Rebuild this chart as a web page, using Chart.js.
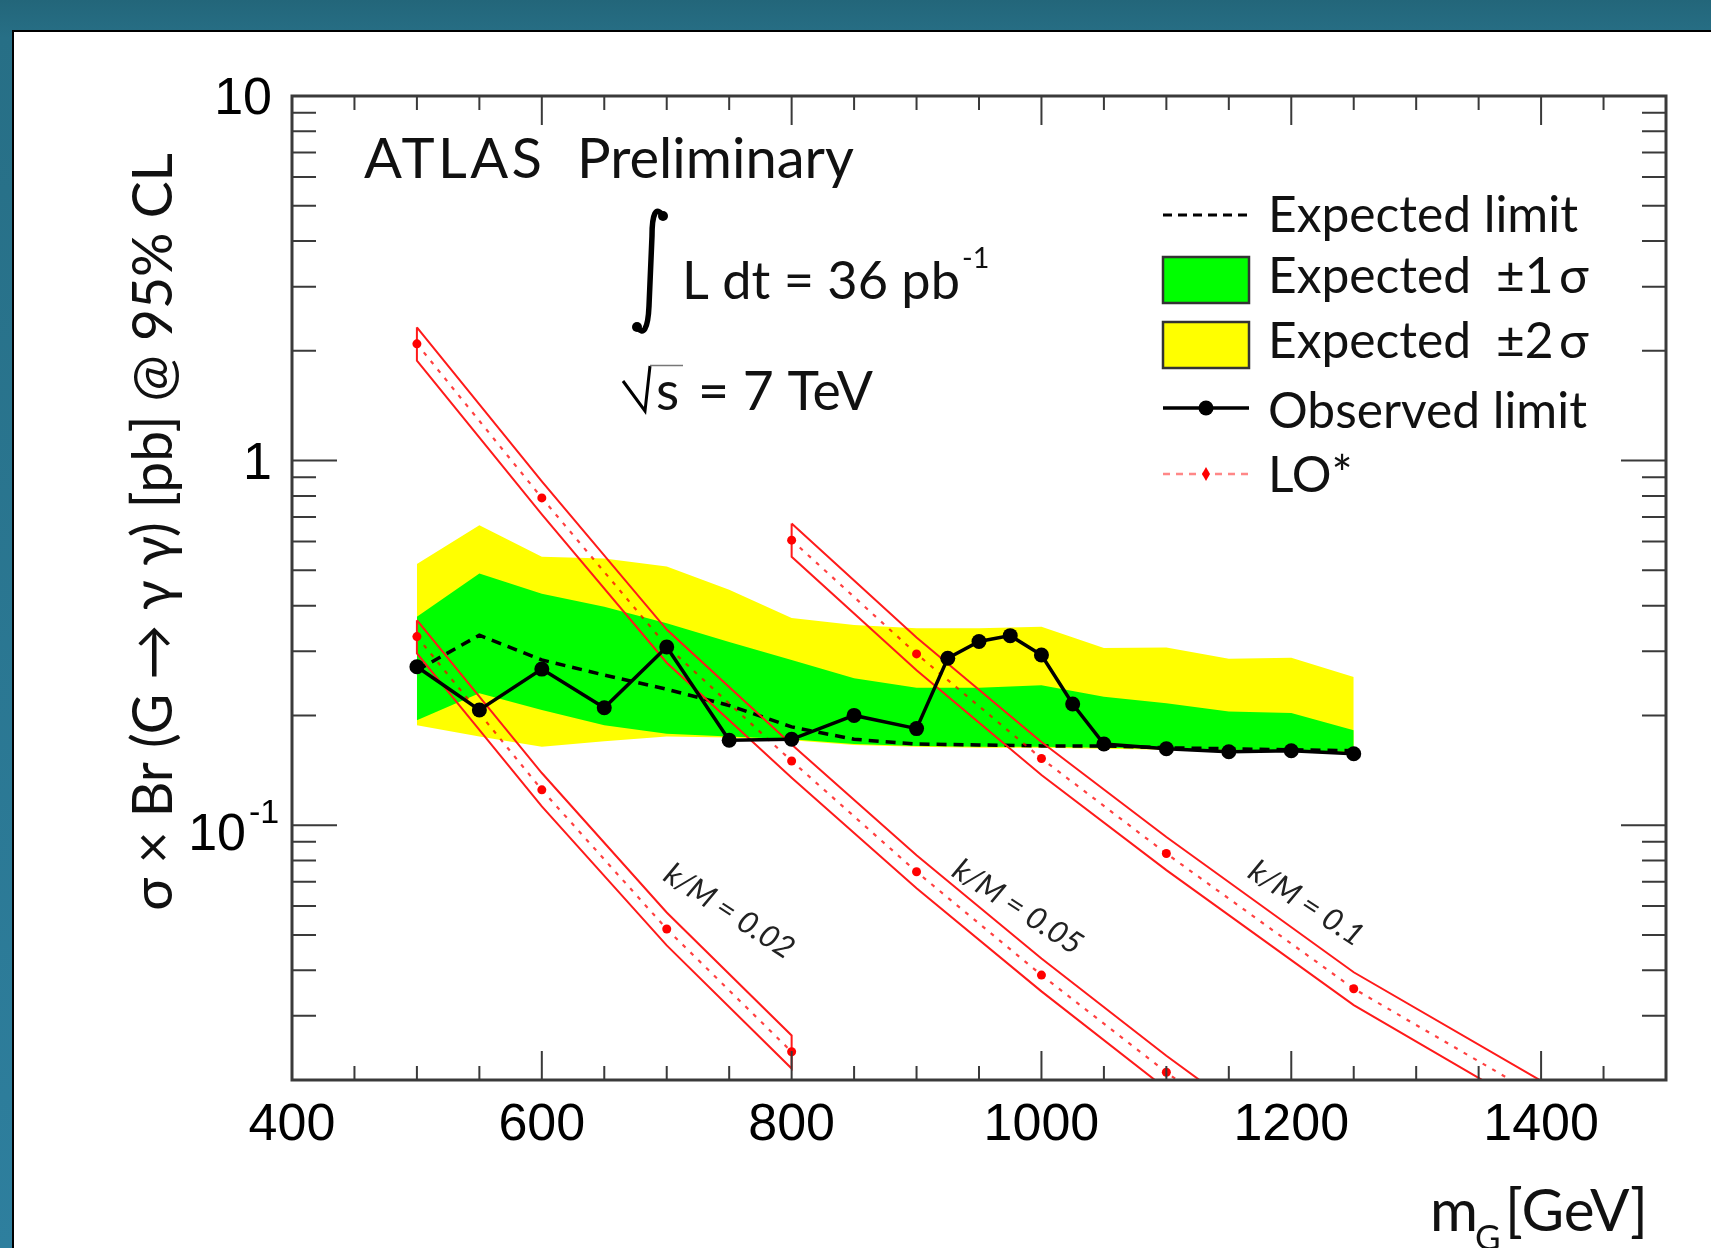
<!DOCTYPE html>
<html>
<head>
<meta charset="utf-8">
<title>ATLAS Preliminary - G to diphoton limit</title>
<script src="https://cdn.jsdelivr.net/npm/chart.js"></script>
<style>
  html, body { margin: 0; padding: 0; background: #26697c; }
  #wrap { width: 1711px; height: 1248px; }
</style>
</head>
<body>
<div id="wrap"><canvas id="limitChart"></canvas></div>
<script>
// expected limit and its bands, one value per mass point
const bandMass = [500, 550, 600, 650, 700, 750, 800, 850, 900, 950, 1000, 1050, 1100, 1150, 1200, 1250];
const expectedLimit = [0.266, 0.332, 0.284, 0.258, 0.236, 0.213, 0.186, 0.172, 0.167, 0.166, 0.165, 0.165, 0.163, 0.162, 0.161, 0.160];
const plus1Sigma = [0.373, 0.490, 0.431, 0.397, 0.358, 0.318, 0.284, 0.253, 0.238, 0.238, 0.242, 0.225, 0.216, 0.205, 0.203, 0.182];
const minus1Sigma = [0.194, 0.230, 0.207, 0.188, 0.178, 0.175, 0.172, 0.167, 0.165, 0.164, 0.164, 0.163, 0.162, 0.161, 0.160, 0.159];
const plus2Sigma = [0.520, 0.665, 0.545, 0.539, 0.512, 0.442, 0.370, 0.354, 0.347, 0.347, 0.350, 0.306, 0.307, 0.286, 0.288, 0.255];
const minus2Sigma = [0.188, 0.175, 0.164, 0.170, 0.175, 0.174, 0.171, 0.166, 0.164, 0.163, 0.163, 0.162, 0.161, 0.160, 0.159, 0.158];

// observed limit
const observedMass = [500, 550, 600, 650, 700, 750, 800, 850, 900, 925, 950, 975, 1000, 1025, 1050, 1100, 1150, 1200, 1250];
const observedLimit = [0.272, 0.207, 0.268, 0.210, 0.308, 0.171, 0.172, 0.200, 0.184, 0.287, 0.319, 0.331, 0.293, 0.215, 0.167, 0.162, 0.159, 0.160, 0.157];

// LO* cross sections (centre and band edges) for k/M = 0.02, 0.05, 0.1
const loMass002 = [500, 600, 700, 800];
const lo002 = [0.329, 0.125, 0.0519, 0.0239];
const lo002Up = [0.365, 0.139, 0.0576, 0.0265];
const lo002Down = [0.296, 0.1126, 0.0468, 0.0215];

const loMass005 = [500, 600, 700, 800, 900, 1000, 1100, 1200];
const lo005 = [2.09, 0.79, 0.31, 0.150, 0.0745, 0.0388, 0.0210, 0.0118];
const lo005Up = [2.32, 0.877, 0.344, 0.1665, 0.0827, 0.0431, 0.0233, 0.0131];
const lo005Down = [1.88, 0.712, 0.279, 0.135, 0.0671, 0.0350, 0.0189, 0.0106];

const loMass01 = [800, 900, 1000, 1100, 1250, 1400];
const lo01 = [0.605, 0.295, 0.1524, 0.0836, 0.0356, 0.0179];
const lo01Up = [0.672, 0.327, 0.169, 0.0928, 0.0395, 0.0199];
const lo01Down = [0.545, 0.266, 0.1373, 0.0753, 0.0321, 0.0161];

// curve labels, placed in data units
const kmTexts = ['k/M = 0.02', 'k/M = 0.05', 'k/M = 0.1'];
const kmMass = [750, 981, 1212];
const kmValue = [0.058, 0.0596, 0.061];

// tick labels
const xTickValues = [400, 600, 800, 1000, 1200, 1400];
const yTickValues = [10, 1, 0.1];
const yTickTexts = ['10', '1', '10'];
const yTickSups = ['', '', '-1'];

const FONT = "Lato, 'DejaVu Sans', sans-serif";
const NUM_FONT = "'Liberation Sans', Arial, sans-serif";

function pts(xs, ys) {
  return xs.map((x, i) => ({ x, y: ys[i] }));
}

// closed outline: upper edge forward, lower edge back
function outline(xs, up, down) {
  const top = pts(xs, up);
  const bottom = pts(xs, down).reverse();
  return [...top, ...bottom, top[0]];
}

function fitSize(ctx, str, width, style) {
  ctx.font = `${style || ''} 100px ${FONT}`;
  return 100 * width / ctx.measureText(str).width;
}

function text(ctx, str, x, y, size, opts = {}) {
  ctx.font = `${opts.style || ''} ${size}px ${opts.family || FONT}`;
  ctx.fillStyle = opts.color || '#111';
  ctx.textAlign = opts.align || 'left';
  ctx.textBaseline = opts.baseline || 'alphabetic';
  ctx.fillText(str, x, y);
}

const loBands = [
  { mass: loMass002, mid: lo002, up: lo002Up, down: lo002Down },
  { mass: loMass005, mid: lo005, up: lo005Up, down: lo005Down },
  { mass: loMass01, mid: lo01, up: lo01Up, down: lo01Down }
];

const datasets = [
  {
    label: 'Observed limit', data: pts(observedMass, observedLimit),
    borderColor: '#000', borderWidth: 3.5,
    pointRadius: 7.5, pointBackgroundColor: '#000', pointBorderWidth: 0
  }
];
loBands.forEach(b => {
  datasets.push({
    label: 'LO*', data: pts(b.mass, b.mid),
    borderColor: 'rgba(255,0,0,0.75)', borderWidth: 2.2, borderDash: [4, 7],
    pointRadius: 4.5, pointBackgroundColor: '#ff0000', pointBorderWidth: 0
  });
  datasets.push({
    label: 'LO* band', data: outline(b.mass, b.up, b.down),
    borderColor: '#ff1a1a', borderWidth: 2, pointRadius: 0
  });
});
datasets.push(
  {
    label: 'Expected limit', data: pts(bandMass, expectedLimit),
    borderColor: '#000', borderWidth: 3.5, borderDash: [10, 7], pointRadius: 0
  },
  {
    label: 'Expected ±1σ', data: pts(bandMass, plus1Sigma),
    borderColor: 'transparent', borderWidth: 0, pointRadius: 0,
    backgroundColor: '#00ff00', fill: '+1'
  },
  { label: '-1σ', data: pts(bandMass, minus1Sigma), borderColor: 'transparent', borderWidth: 0, pointRadius: 0 },
  {
    label: 'Expected ±2σ', data: pts(bandMass, plus2Sigma),
    borderColor: 'transparent', borderWidth: 0, pointRadius: 0,
    backgroundColor: '#ffff00', fill: '+1'
  },
  { label: '-2σ', data: pts(bandMass, minus2Sigma), borderColor: 'transparent', borderWidth: 0, pointRadius: 0 }
);

const atlasDecor = {
  id: 'atlasDecor',

  beforeDraw(chart) {
    const ctx = chart.ctx, w = chart.width, h = chart.height;
    const g = ctx.createLinearGradient(0, 0, 0, h);
    g.addColorStop(0, '#23667a');
    g.addColorStop(0.03, '#276f86');
    g.addColorStop(1, '#2e7f9e');
    ctx.save();
    ctx.fillStyle = g;
    ctx.fillRect(0, 0, w, h);
    ctx.fillStyle = '#000';
    ctx.fillRect(12, 30, w, h);
    ctx.fillStyle = '#fff';
    ctx.fillRect(14, 32, w, h);
    ctx.restore();
  },

  afterDraw(chart) {
    const ctx = chart.ctx;
    const { left, right, top, bottom } = chart.chartArea;
    const xs = chart.scales.x, ys = chart.scales.y;
    ctx.save();

    // frame and inward ticks on all four sides
    ctx.strokeStyle = '#3a3a3a';
    ctx.lineWidth = 3;
    ctx.strokeRect(left, top, right - left, bottom - top);
    ctx.lineWidth = 2;
    ctx.beginPath();
    for (let v = 400; v <= 1500; v += 50) {
      const px = xs.getPixelForValue(v);
      const len = v % 200 === 0 ? 29 : 14;
      ctx.moveTo(px, bottom); ctx.lineTo(px, bottom - len);
      ctx.moveTo(px, top); ctx.lineTo(px, top + len);
    }
    for (let e = -2; e <= 1; e++) {
      for (let m = 1; m <= 9; m++) {
        const v = m * Math.pow(10, e);
        if (v < 0.0199 || v > 10.01) continue;
        const py = ys.getPixelForValue(v);
        const len = m === 1 ? 45 : 24;
        ctx.moveTo(left, py); ctx.lineTo(left + len, py);
        ctx.moveTo(right, py); ctx.lineTo(right - len, py);
      }
    }
    ctx.stroke();

    // tick labels
    xTickValues.forEach(v => {
      text(ctx, String(v), xs.getPixelForValue(v), 1140, 52, { family: NUM_FONT, align: 'center', color: '#000' });
    });
    yTickValues.forEach((v, i) => {
      const py = ys.getPixelForValue(v);
      if (yTickSups[i]) {
        text(ctx, yTickTexts[i], left - 46, py + 10, 52, { family: NUM_FONT, align: 'right', baseline: 'middle', color: '#000' });
        text(ctx, yTickSups[i], left - 43, py - 12, 34, { family: NUM_FONT, baseline: 'middle', color: '#000' });
      } else {
        text(ctx, yTickTexts[i], left - 20, py + 4, 52, { family: NUM_FONT, align: 'right', baseline: 'middle', color: '#000' });
      }
    });

    // axis titles
    const yTitle = 'σ × Br (G → γ γ) [pb] @ 95% CL';
    const yTitleSize = fitSize(ctx, yTitle, 758);
    ctx.save();
    ctx.translate(172, 153);
    ctx.rotate(-Math.PI / 2);
    text(ctx, yTitle, 0, 0, yTitleSize, { align: 'right' });
    ctx.restore();

    const unitSize = fitSize(ctx, '[GeV]', 143);
    text(ctx, 'm', 1430, 1231, unitSize);
    text(ctx, 'G', 1475, 1250, unitSize * 0.6);
    text(ctx, '[GeV]', 1505, 1231, unitSize);

    // ATLAS label, luminosity and energy
    const prelimSize = fitSize(ctx, 'Preliminary', 277);
    ctx.font = `${prelimSize}px ${FONT}`;
    const atlasW = ctx.measureText('ATLAS').width;
    ctx.letterSpacing = `${Math.max(0, (178 - atlasW) / 4)}px`;
    text(ctx, 'ATLAS', 364, 178, prelimSize);
    ctx.letterSpacing = '0px';
    text(ctx, 'Preliminary', 577, 178, prelimSize);

    ctx.strokeStyle = '#000';
    ctx.fillStyle = '#000';
    ctx.lineWidth = 5.5;
    ctx.lineCap = 'round';
    ctx.beginPath();
    ctx.moveTo(663, 216);
    ctx.bezierCurveTo(656, 205, 652, 214, 652, 236);
    ctx.lineTo(649, 306);
    ctx.bezierCurveTo(648, 330, 643, 336, 637, 327);
    ctx.stroke();
    ctx.beginPath(); ctx.arc(663, 216, 5, 0, Math.PI * 2); ctx.fill();
    ctx.beginPath(); ctx.arc(637, 327, 5, 0, Math.PI * 2); ctx.fill();

    const lumiSize = fitSize(ctx, 'L dt = 36 pb', 278);
    text(ctx, 'L dt = 36 pb', 682, 299, lumiSize);
    text(ctx, '-1', 962, 268, lumiSize * 0.55);

    ctx.lineWidth = 3;
    ctx.lineCap = 'butt';
    ctx.beginPath();
    ctx.moveTo(623, 381); ctx.lineTo(645, 411); ctx.lineTo(650, 366);
    ctx.stroke();
    ctx.strokeStyle = '#777';
    ctx.lineWidth = 1.5;
    ctx.beginPath();
    ctx.moveTo(650, 365.5); ctx.lineTo(683, 365.5);
    ctx.stroke();
    const energySize = fitSize(ctx, '= 7 TeV', 175);
    text(ctx, 's', 656, 410, energySize);
    text(ctx, '= 7 TeV', 698, 410, energySize);

    // k/M labels along the LO* curves
    kmTexts.forEach((t, i) => {
      ctx.save();
      ctx.translate(xs.getPixelForValue(kmMass[i]), ys.getPixelForValue(kmValue[i]));
      ctx.rotate(33 * Math.PI / 180);
      text(ctx, t, 0, 0, 31, { style: 'italic', align: 'center', baseline: 'middle', color: '#222' });
      ctx.restore();
    });

    // legend
    const legSize = fitSize(ctx, 'Expected limit', 310);
    const lx0 = 1163, lx1 = 1249, mx = 1206, tx = 1268;

    ctx.strokeStyle = '#000';
    ctx.lineWidth = 3;
    ctx.setLineDash([9, 6]);
    ctx.beginPath(); ctx.moveTo(lx0, 215); ctx.lineTo(lx1, 215); ctx.stroke();
    ctx.setLineDash([]);
    text(ctx, 'Expected limit', tx, 232, legSize);

    [['#00ff00', 257, '±1'], ['#ffff00', 322, '±2']].forEach(([col, y, sig]) => {
      ctx.fillStyle = col;
      ctx.fillRect(lx0, y, lx1 - lx0, 46);
      ctx.strokeStyle = '#333';
      ctx.lineWidth = 2.5;
      ctx.strokeRect(lx0, y, lx1 - lx0, 46);
      const base = y + 36;
      text(ctx, 'Expected', tx, base, legSize);
      text(ctx, sig, 1496, base, legSize);
      text(ctx, 'σ', 1559, base, legSize);
    });

    ctx.strokeStyle = '#000';
    ctx.lineWidth = 3.5;
    ctx.beginPath(); ctx.moveTo(lx0, 408); ctx.lineTo(lx1, 408); ctx.stroke();
    ctx.fillStyle = '#000';
    ctx.beginPath(); ctx.arc(mx, 408, 7.5, 0, Math.PI * 2); ctx.fill();
    text(ctx, 'Observed limit', tx, 428, legSize);

    ctx.strokeStyle = 'rgba(255,70,70,0.65)';
    ctx.lineWidth = 2.5;
    ctx.setLineDash([7, 6]);
    ctx.beginPath(); ctx.moveTo(lx0, 474); ctx.lineTo(lx1, 474); ctx.stroke();
    ctx.setLineDash([]);
    ctx.fillStyle = '#ff0000';
    ctx.beginPath();
    ctx.moveTo(mx, 467); ctx.lineTo(mx + 4, 474); ctx.lineTo(mx, 481); ctx.lineTo(mx - 4, 474);
    ctx.closePath(); ctx.fill();
    text(ctx, 'LO*', tx, 492, legSize);

    ctx.restore();
  }
};

new Chart(document.getElementById('limitChart'), {
  type: 'line',
  data: { datasets },
  options: {
    responsive: true,
    maintainAspectRatio: false,
    animation: false,
    events: [],
    layout: { padding: { left: 0, right: 45, top: 96, bottom: 0 } },
    plugins: { legend: { display: false }, tooltip: { enabled: false } },
    scales: {
      x: {
        type: 'linear', min: 400, max: 1500,
        grid: { display: false }, border: { display: false },
        ticks: { display: false, stepSize: 50 },
        afterFit: s => { s.height = 168; }
      },
      y: {
        type: 'logarithmic', min: 0.02, max: 10,
        grid: { display: false }, border: { display: false },
        ticks: { display: false },
        afterFit: s => { s.width = 292; }
      }
    }
  },
  plugins: [atlasDecor]
});
</script>
</body>
</html>
